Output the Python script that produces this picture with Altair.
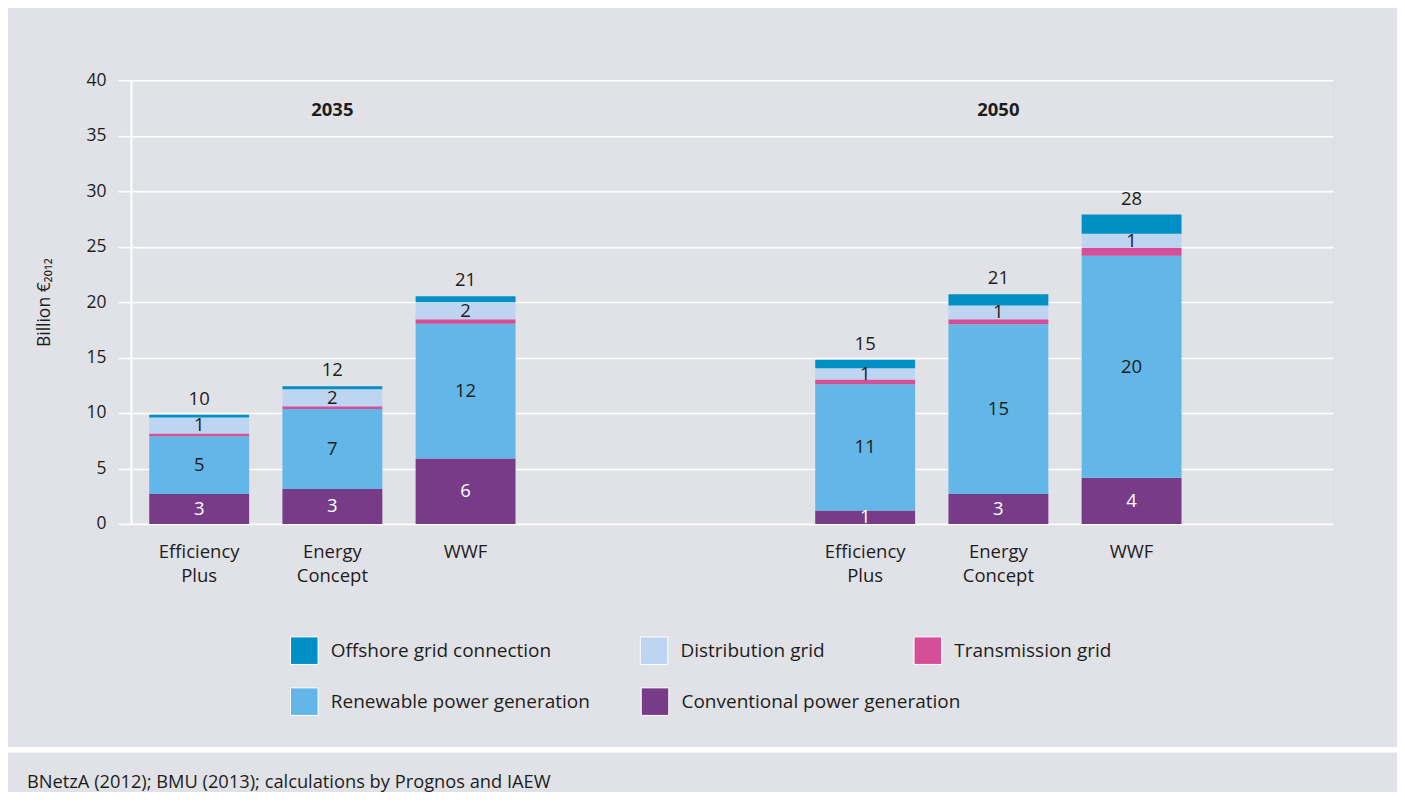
import altair as alt
import pandas as pd

# ---------------- data ----------------
years = ["2035", "2035", "2035", "2050", "2050", "2050"]
scenarios = ["Efficiency Plus", "Energy Concept", "WWF",
             "Efficiency Plus", "Energy Concept", "WWF"]

conventional = [2.7, 3.15, 5.9, 1.2, 2.7, 4.17]
renewable = [5.2, 7.2, 12.15, 11.4, 15.3, 20.0]
transmission = [0.25, 0.25, 0.4, 0.42, 0.45, 0.72]
distribution = [1.45, 1.55, 1.55, 1.02, 1.25, 1.26]
offshore = [0.25, 0.25, 0.52, 0.76, 1.0, 1.74]

components = ["Conventional power generation", "Renewable power generation",
              "Transmission grid", "Distribution grid", "Offshore grid connection"]
series = [conventional, renewable, transmission, distribution, offshore]
labelled = ["Renewable power generation", "Distribution grid"]
white_labelled = ["Conventional power generation"]

grid_items = ["Offshore grid connection", "Distribution grid", "Transmission grid"]
grid_colors = ["#0090c5", "#bdd5f0", "#d44f97"]
gen_items = ["Renewable power generation", "Conventional power generation"]
gen_colors = ["#62b7e8", "#773b88"]

x_domain = ["2035|Efficiency Plus", "2035|Energy Concept", "2035|WWF", "gap1|", "gap2|",
            "2050|Efficiency Plus", "2050|Energy Concept", "2050|WWF", "gap3|"]
group_years = ["2035", "2050"]
group_keys = ["2035|Energy Concept", "2050|Energy Concept"]

y_title = "Billion €₂₀₁₂"
y_ticks = [0, 5, 10, 15, 20, 25, 30, 35, 40]
source_note = "BNetzA (2012); BMU (2013); calculations by Prognos and IAEW"

# ---------------- tables ----------------
rows = []
for i in range(len(years)):
    for j, comp in enumerate(components):
        rows.append({"key": f"{years[i]}|{scenarios[i]}", "component": comp,
                     "value": series[j][i], "order": j})
df = pd.DataFrame(rows)
groups_df = pd.DataFrame({"key": group_keys, "year": group_years})
note_df = pd.DataFrame({"note": [source_note]})

TXT = "#1d1d1b"
FONT = "Open Sans"

x_enc = alt.X("key:N",
              scale=alt.Scale(domain=x_domain, paddingInner=0.25, paddingOuter=0.1375),
              axis=alt.Axis(title=None, labelAngle=0, ticks=False, domain=False, grid=False,
                            labelFontSize=18.5, labelLineHeight=24, labelPadding=19,
                            labelColor=TXT,
                            labelExpr="split(slice(datum.label, indexof(datum.label, '|') + 1), ' ')"))

y_scale = alt.Scale(domain=[0, 40], nice=False)
y_axis = alt.Axis(values=y_ticks, grid=True, gridColor="white", gridWidth=1.6,
                  domain=True, domainColor="white", domainWidth=2,
                  ticks=True, tickColor="white", tickSize=13, tickWidth=1.6,
                  labelFontSize=17.5, labelColor=TXT, labelPadding=12,
                  titleFontSize=17.5, titleFontWeight="normal", titleColor=TXT,
                  titleX=-86, titleY=222, titleAngle=-90, titleAlign="center",
                  titleBaseline="middle")


def y_enc(field):
    return alt.Y(field, scale=y_scale, axis=y_axis, title=y_title)


base = alt.Chart(df).transform_stack(
    stack="value", groupby=["key"], as_=["y0", "y1"],
    sort=[alt.SortField("order", order="ascending")])

legend_common = dict(title=None, orient="none", direction="horizontal", columns=3,
                     symbolType="square", symbolSize=760, symbolStrokeColor="white",
                     symbolStrokeWidth=1, symbolOpacity=1, labelFontSize=19,
                     labelColor=TXT, labelOffset=12, labelLimit=500, padding=0)

grid_bars = base.transform_filter(
    alt.FieldOneOfPredicate(field="component", oneOf=grid_items)
).mark_bar(opacity=1).encode(
    x=x_enc, y=y_enc("y0:Q"), y2="y1:Q",
    color=alt.Color("component:N",
                    scale=alt.Scale(domain=grid_items, range=grid_colors),
                    legend=alt.Legend(legendX=159, legendY=556, columnPadding=86,
                                      **legend_common)))

gen_bars = base.transform_filter(
    alt.FieldOneOfPredicate(field="component", oneOf=gen_items)
).mark_bar(opacity=1).encode(
    x=x_enc, y=y_enc("y0:Q"), y2="y1:Q",
    fill=alt.Fill("component:N",
                  scale=alt.Scale(domain=gen_items, range=gen_colors),
                  legend=alt.Legend(legendX=159, legendY=607, columnPadding=48,
                                    **legend_common)))

seg_labels = base.transform_filter(
    alt.FieldOneOfPredicate(field="component", oneOf=labelled)
).transform_calculate(mid="(datum.y0 + datum.y1) / 2").mark_text(
    fontSize=18.5, color=TXT, baseline="middle"
).encode(x=x_enc, y=y_enc("mid:Q"), text=alt.Text("value:Q", format=".0f"))

conv_labels = base.transform_filter(
    alt.FieldOneOfPredicate(field="component", oneOf=white_labelled)
).transform_calculate(mid="(datum.y0 + datum.y1) / 2").mark_text(
    fontSize=18.5, color="white", baseline="middle"
).encode(x=x_enc, y=y_enc("mid:Q"), text=alt.Text("value:Q", format=".0f"))

totals = alt.Chart(df).transform_aggregate(
    total="sum(value)", groupby=["key"]
).mark_text(fontSize=18.5, color=TXT, baseline="alphabetic", dy=-10).encode(
    x=x_enc, y=y_enc("total:Q"), text=alt.Text("total:Q", format=".0f"))

group_labels = alt.Chart(groups_df).mark_text(
    fontSize=18.5, fontWeight="bold", color=TXT, baseline="middle"
).encode(x=x_enc, y=alt.value(30), text="year:N")

separator = alt.Chart(note_df).mark_rule(color="white", strokeWidth=5.5).encode(
    x=alt.value(-140), x2=alt.value(1290), y=alt.value(670))

footer = alt.Chart(note_df).mark_text(
    fontSize=18.3, color=TXT, align="left", baseline="middle"
).encode(x=alt.value(-104), y=alt.value(703), text="note:N")

chart = alt.layer(
    gen_bars, grid_bars, seg_labels, conv_labels, totals, group_labels, separator, footer
).resolve_scale(color="independent", fill="independent").properties(
    width=1203, height=444,
    autosize=alt.AutoSizeParams(type="none"),
    padding={"left": 123, "top": 72, "right": 64, "bottom": 268},
    background="#e1e2e7",
).configure_view(stroke=None).configure(font=FONT)

chart.save("out.html", embed_options={"renderer": "svg", "actions": False})
